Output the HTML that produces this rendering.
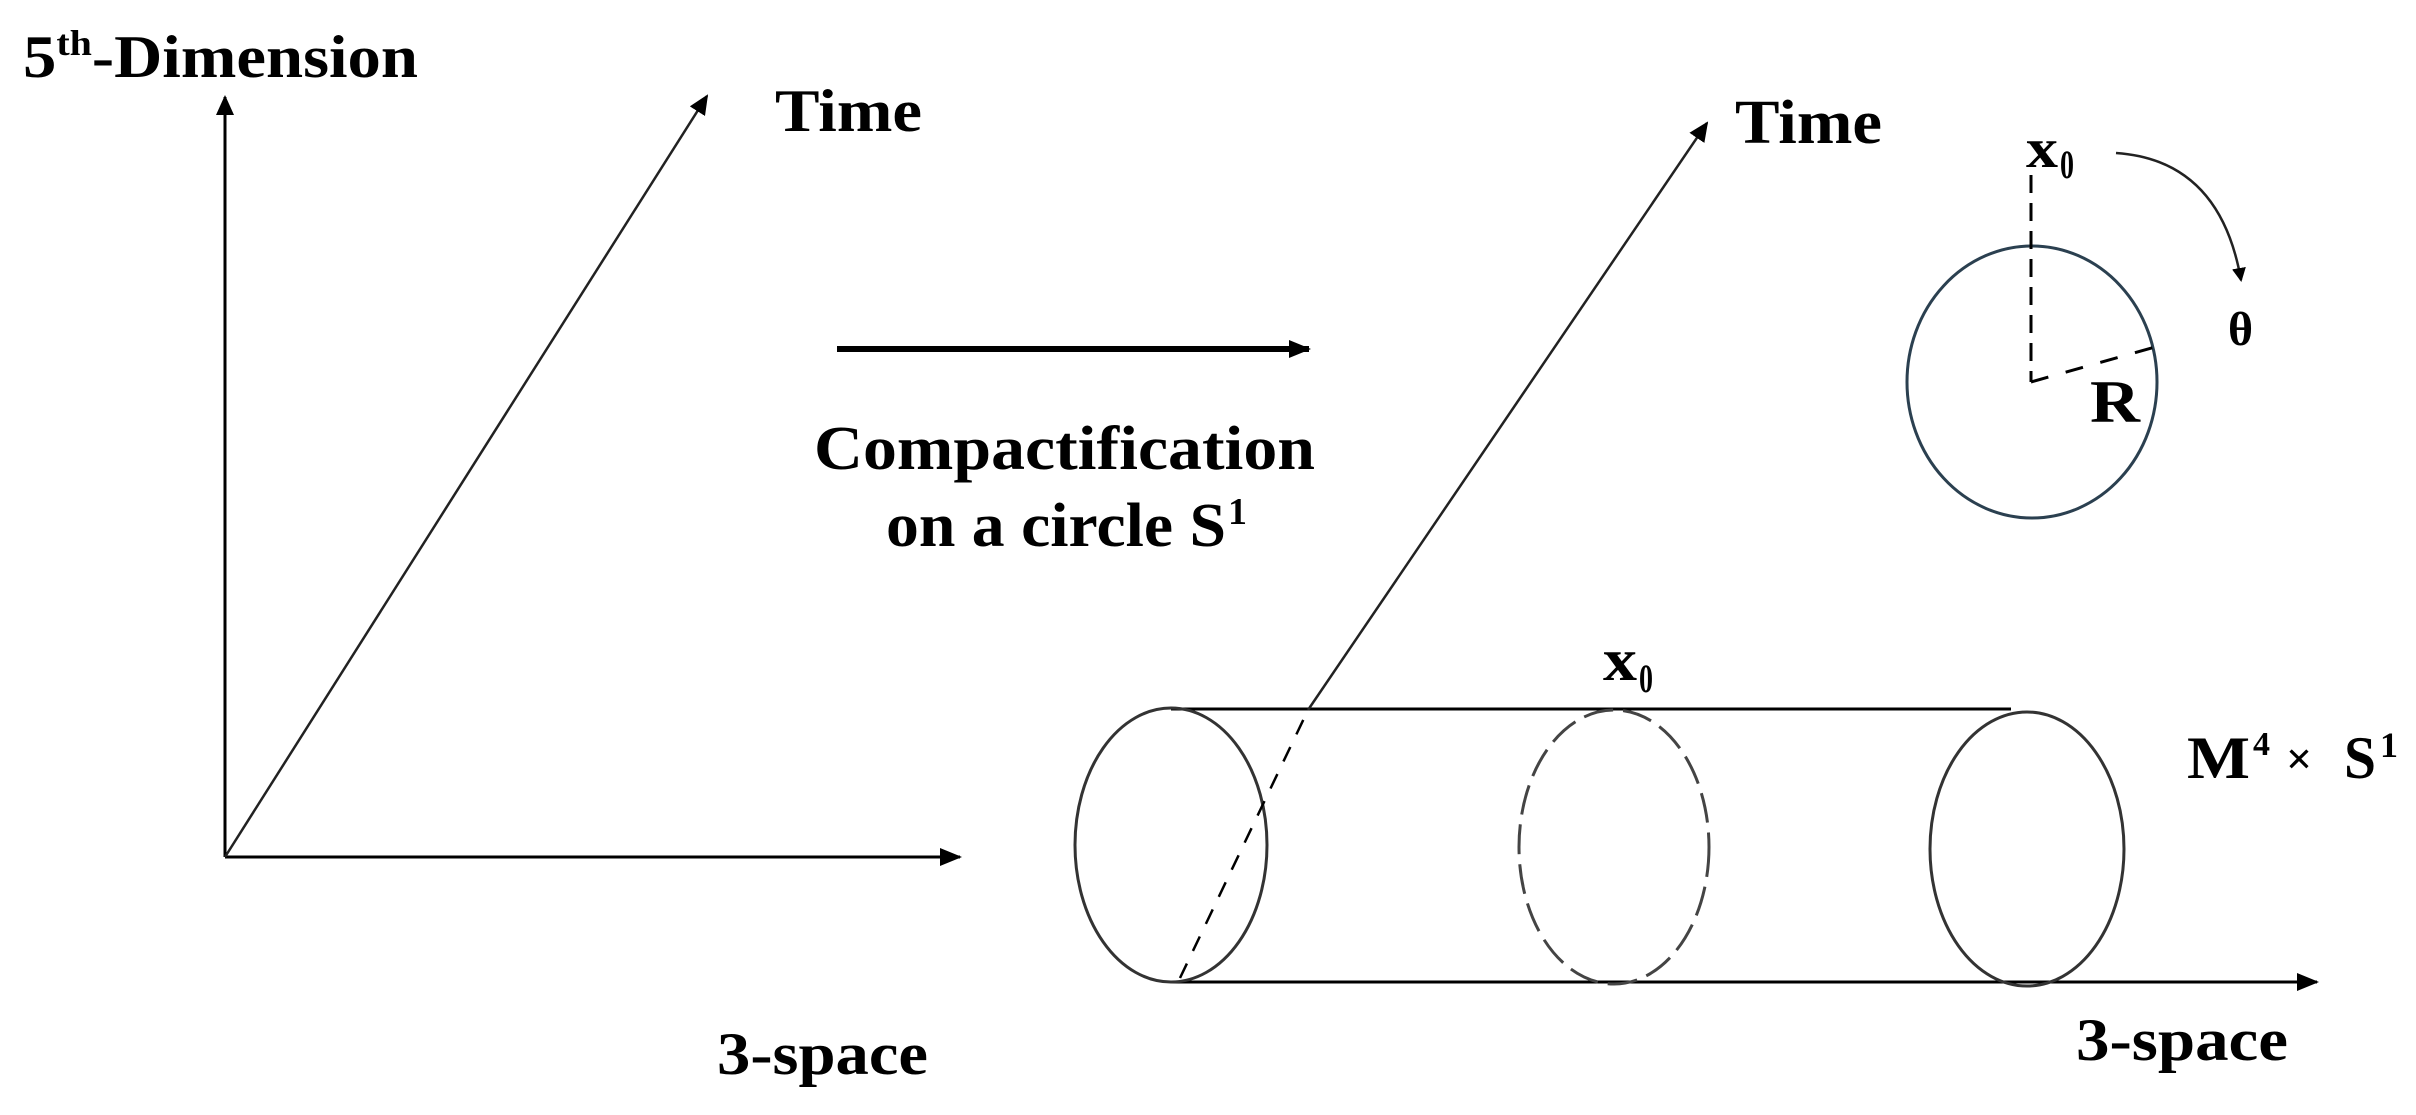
<!DOCTYPE html>
<html><head><meta charset="utf-8"><style>
html,body{margin:0;padding:0;background:#fff;}
svg{display:block;}
text{font-family:"Liberation Serif",serif;font-weight:bold;fill:#000;}
</style></head><body>
<svg width="2416" height="1115" viewBox="0 0 2416 1115" xmlns="http://www.w3.org/2000/svg">
<defs>
<marker id="ah" markerWidth="14" markerHeight="14" refX="12" refY="7" orient="auto" markerUnits="userSpaceOnUse" viewBox="0 0 14 14">
<path d="M0,0 L14,7 L0,14 Z" fill="#000"/>
</marker>
<marker id="ah2" markerWidth="20" markerHeight="18" refX="18" refY="9" orient="auto" markerUnits="userSpaceOnUse" viewBox="0 0 20 18">
<path d="M0,0 L20,9 L0,18 Z" fill="#000"/>
</marker>
<marker id="ah3" markerWidth="22" markerHeight="18" refX="20" refY="9" orient="auto" markerUnits="userSpaceOnUse" viewBox="0 0 22 18">
<path d="M0,0 L22,9 L0,18 Z" fill="#000"/>
</marker>
</defs>

<!-- Left axes -->
<text x="23" y="77" font-size="60" textLength="395" lengthAdjust="spacingAndGlyphs">5<tspan font-size="36" dy="-22">th</tspan><tspan dy="22">-Dimension</tspan></text>
<line x1="225" y1="857" x2="225" y2="97" stroke="#000" stroke-width="3" marker-end="url(#ah2)"/>
<line x1="225" y1="857" x2="960" y2="857" stroke="#000" stroke-width="3" marker-end="url(#ah3)"/>
<line x1="225" y1="857" x2="707" y2="96" stroke="#222" stroke-width="2.5" marker-end="url(#ah2)"/>
<text x="775" y="131" font-size="60" textLength="147" lengthAdjust="spacingAndGlyphs">Time</text>
<text x="717" y="1074" font-size="60" textLength="211" lengthAdjust="spacingAndGlyphs">3-space</text>

<!-- Compactification arrow -->
<line x1="837" y1="349" x2="1309" y2="349" stroke="#000" stroke-width="6" marker-end="url(#ah3)"/>
<text x="814" y="469" font-size="62" textLength="501" lengthAdjust="spacingAndGlyphs">Compactification</text>
<text x="886" y="546" font-size="62" textLength="340" lengthAdjust="spacingAndGlyphs">on a circle S</text>
<text x="1228" y="524" font-size="38">1</text>

<!-- Cylinder -->
<line x1="1171" y1="709" x2="2011" y2="709" stroke="#000" stroke-width="3"/>
<line x1="1171" y1="982" x2="2317" y2="982" stroke="#000" stroke-width="3" marker-end="url(#ah3)"/>
<ellipse cx="1171" cy="845" rx="96" ry="137" fill="none" stroke="#333" stroke-width="3"/>
<ellipse cx="1614" cy="847" rx="95" ry="137" fill="none" stroke="#444" stroke-width="3" stroke-dasharray="30,10"/>
<ellipse cx="2027" cy="849" rx="97" ry="137" fill="none" stroke="#333" stroke-width="3"/>
<line x1="1180" y1="978" x2="1308" y2="710" stroke="#000" stroke-width="2.5" stroke-dasharray="16,14"/>
<line x1="1308" y1="710" x2="1707" y2="123" stroke="#222" stroke-width="2.5" marker-end="url(#ah2)"/>
<text x="1735" y="143" font-size="62" textLength="147" lengthAdjust="spacingAndGlyphs">Time</text>
<text x="1603" y="680" font-size="60" textLength="34" lengthAdjust="spacingAndGlyphs">x</text>
<text x="1639" y="692" font-size="40" font-weight="normal" textLength="14" lengthAdjust="spacingAndGlyphs">0</text>
<text x="2187" y="778" font-size="60" textLength="63" lengthAdjust="spacingAndGlyphs">M</text>
<text x="2253" y="755" font-size="34" font-weight="normal">4</text>
<text x="2286" y="774" font-size="46" font-weight="normal">×</text>
<text x="2344" y="778" font-size="60" textLength="32" lengthAdjust="spacingAndGlyphs">S</text>
<text x="2380" y="757" font-size="36">1</text>
<text x="2076" y="1060" font-size="60" textLength="212" lengthAdjust="spacingAndGlyphs">3-space</text>

<!-- Circle S1 -->
<ellipse cx="2032" cy="382" rx="125" ry="136" fill="none" stroke="#2b4050" stroke-width="3"/>
<line x1="2031" y1="175" x2="2031" y2="382" stroke="#000" stroke-width="3" stroke-dasharray="18,10"/>
<line x1="2031" y1="382" x2="2155" y2="347" stroke="#000" stroke-width="3" stroke-dasharray="18,18"/>
<text x="2026" y="167" font-size="56" textLength="32" lengthAdjust="spacingAndGlyphs">x</text>
<text x="2060" y="178" font-size="40" font-weight="normal" textLength="14" lengthAdjust="spacingAndGlyphs">0</text>
<path d="M2116,153 Q2220,160 2241,280" fill="none" stroke="#222" stroke-width="2.5" marker-end="url(#ah)"/>
<text x="2228" y="345" font-size="48" font-weight="normal">θ</text>
<text x="2090" y="422" font-size="60" textLength="50" lengthAdjust="spacingAndGlyphs">R</text>
</svg>
</body></html>
